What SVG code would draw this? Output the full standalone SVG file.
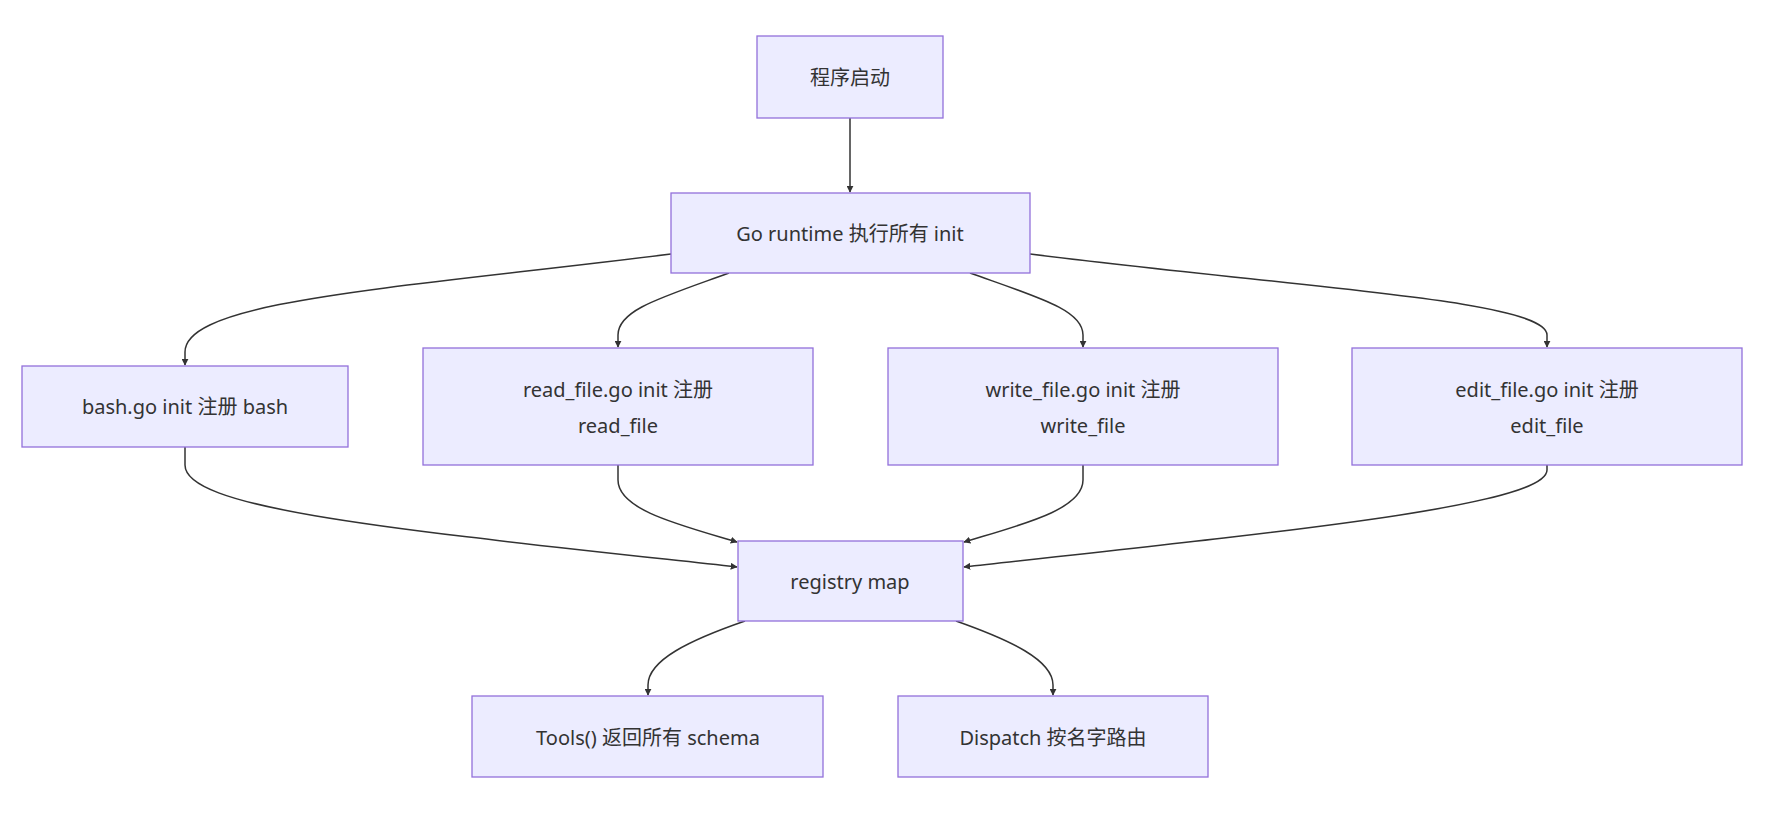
<svg xmlns="http://www.w3.org/2000/svg" width="1778" height="824" viewBox="0 0 1778 824">
<style>
.n rect{fill:#ECECFF;stroke:#9370DB;stroke-width:1.3}
.n text{font-family:"Noto Sans","Noto Sans CJK SC",sans-serif;font-size:20px;fill:#333;text-anchor:middle;dominant-baseline:central}
.e path{fill:none;stroke:#333;stroke-width:1.5;marker-end:url(#a)}
</style>
<defs><marker id="a" viewBox="0 0 10 10" refX="9" refY="5" markerWidth="7" markerHeight="7" orient="auto-start-reverse" markerUnits="userSpaceOnUse"><path d="M0,0L10,5L0,10z" fill="#333" transform="scale(1)"/></marker></defs>
<rect width="1778" height="824" fill="#fff"/>
<g class="e">
<path d="M850,118 L850,192"/>
<path d="M671,254 C400,288 185,300 185,352 L185,365"/>
<path d="M729,273 C660,298 618,310 618,335 L618,347"/>
<path d="M970,273 C1040,298 1083,310 1083,335 L1083,347"/>
<path d="M1030,254 C1300,288 1547,300 1547,335 L1547,347"/>
<path d="M185,447 L185,465 C185,510 400,530 737,567"/>
<path d="M618,465 L618,480 C618,510 680,525 737,542"/>
<path d="M1083,465 L1083,480 C1083,510 1020,525 964,542"/>
<path d="M1547,465 L1547,470 C1547,505 1300,530 964,567"/>
<path d="M745,621 C690,640 648,660 648,685 L648,695"/>
<path d="M956,621 C1010,640 1053,660 1053,685 L1053,695"/>
</g>
<g id="start" class="n"><rect x="757" y="36" width="186" height="82"/><text x="850" y="77">程序启动</text></g>
<g id="go" class="n"><rect x="671" y="193" width="359" height="80"/><text x="850" y="233">Go runtime 执行所有 init</text></g>
<g id="bash" class="n"><rect x="22" y="366" width="326" height="81"/><text x="185" y="406">bash.go init 注册 bash</text></g>
<g id="read" class="n"><rect x="423" y="348" width="390" height="117"/><text x="618" y="389">read_file.go init 注册</text><text x="618" y="425">read_file</text></g>
<g id="write" class="n"><rect x="888" y="348" width="390" height="117"/><text x="1083" y="389">write_file.go init 注册</text><text x="1083" y="425">write_file</text></g>
<g id="edit" class="n"><rect x="1352" y="348" width="390" height="117"/><text x="1547" y="389">edit_file.go init 注册</text><text x="1547" y="425">edit_file</text></g>
<g id="registry" class="n"><rect x="738" y="541" width="225" height="80"/><text x="850" y="581">registry map</text></g>
<g id="tools" class="n"><rect x="472" y="696" width="351" height="81"/><text x="648" y="737">Tools() 返回所有 schema</text></g>
<g id="dispatch" class="n"><rect x="898" y="696" width="310" height="81"/><text x="1053" y="737">Dispatch 按名字路由</text></g>
</svg>
